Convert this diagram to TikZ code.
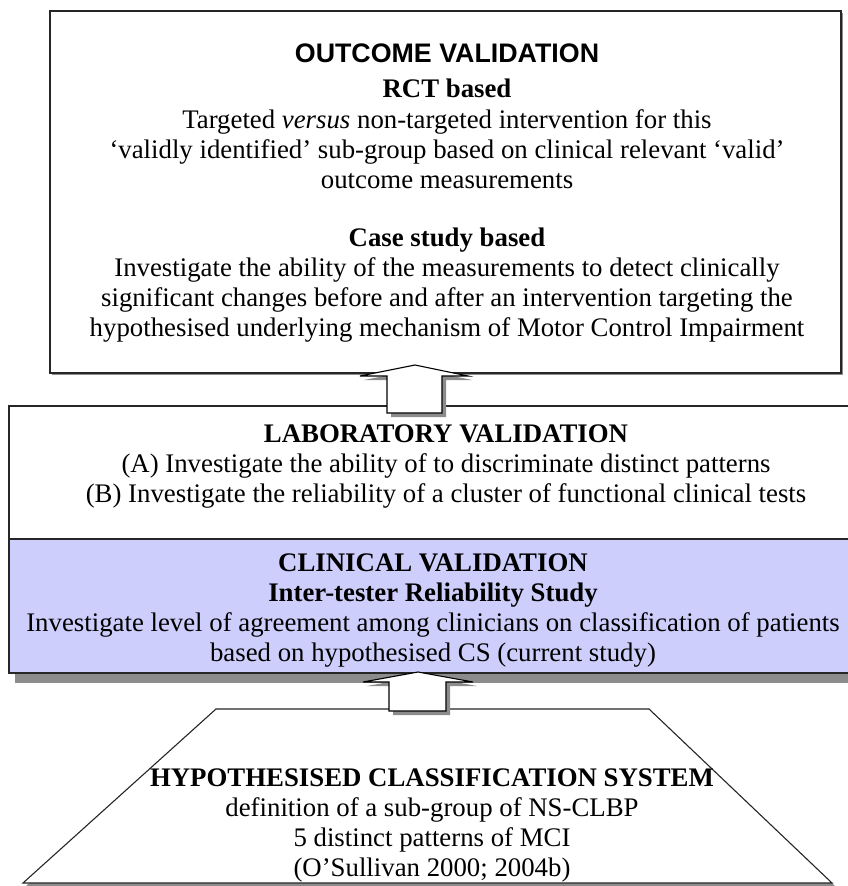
\documentclass[tikz,border=0pt]{standalone}
\usepackage{fontspec}
\setmainfont{Liberation Serif}
\setsansfont{Liberation Sans}
\usetikzlibrary{calc}

\begin{document}
\begin{tikzpicture}[x=1pt, y=-1pt,
    txt/.style={align=center, inner sep=0pt, font=\fontsize{26.8}{30}\selectfont},
    hd/.style={txt, font=\fontsize{26.8}{30}\selectfont\bfseries},
    frame/.style={draw=black!85, line width=1.1pt},
    shade/.style={fill=black!45, draw=none},
    blockarrow/.style={fill=white, draw=black, line width=1.1pt, line join=miter}]
        \useasboundingbox (0,0) rectangle (847,886);
        % outcome validation
        \fill[shade] (52,13) rectangle (843,375);
        \draw[frame, fill=white] (50,11) rectangle (841,373);
        \node[hd, font=\fontsize{26.8}{30}\selectfont\sffamily\bfseries] (outT) at (447,53) {OUTCOME VALIDATION};
        \node[hd] (rctT) at (447,88) {RCT based};
        \node[txt] (rct) at (447,149) {Targeted \emph{versus} non-targeted intervention for this\\
                        `validly identified' sub-group based on clinical relevant `valid'\\
                        outcome measurements};
        \node[hd] (caseT) at (447,240) {Case study based};
        \node[txt] (case) at (447,300) {Investigate the ability of the measurements to detect clinically\\
                        significant changes before and after an intervention targeting the\\
                        hypothesised underlying mechanism of Motor Control Impairment};
        % laboratory + clinical validation
        \draw[frame, fill=white] (9,406) rectangle (860,539);
        \fill[shade] (15,547) rectangle (866,683);
        \draw[frame, fill={rgb,255:red,206;green,206;blue,252}] (9,539) rectangle (860,673);
        \node[txt] (lab) at (446,467) {\textbf{LABORATORY VALIDATION}\\
                        (A) Investigate the ability of to discriminate distinct patterns\\
                        (B) Investigate the reliability of a cluster of functional clinical tests};
        \node[txt] (clin) at (433,611) {\textbf{CLINICAL VALIDATION}\\
                        \textbf{Inter-tester Reliability Study}\\
                        Investigate level of agreement among clinicians on classification of patients\\
                        based on hypothesised CS (current study)};
        % hypothesised classification system
        \fill[shade] (219,712) -- (652,712) -- (835,886) -- (26,886) -- cycle;
        \draw[frame, fill=white] (216,709) -- (649,709) -- (832,883) -- (23,883) -- cycle;
        \node[txt] (hcs) at (432,825) {\textbf{HYPOTHESISED CLASSIFICATION SYSTEM}\\
                        definition of a sub-group of NS-CLBP\\
                        5 distinct patterns of MCI\\
                        (O'Sullivan 2000; 2004b)};
        % block arrows
        \fill[shade] (419,369) -- (472,380) -- (446,380) -- (446,417) -- (391,417) -- (391,380) -- (364,380) -- cycle;
        \draw[blockarrow] (415,365) -- (468,376) -- (442,376) -- (442,413) -- (387,413) -- (387,376) -- (360,376) -- cycle;
        \fill[shade] (422,676) -- (477,686) -- (450,686) -- (450,715) -- (393,715) -- (393,686) -- (367,686) -- cycle;
        \draw[blockarrow] (418,672) -- (473,682) -- (446,682) -- (446,711) -- (389,711) -- (389,682) -- (363,682) -- cycle;
\end{tikzpicture}
\end{document}
